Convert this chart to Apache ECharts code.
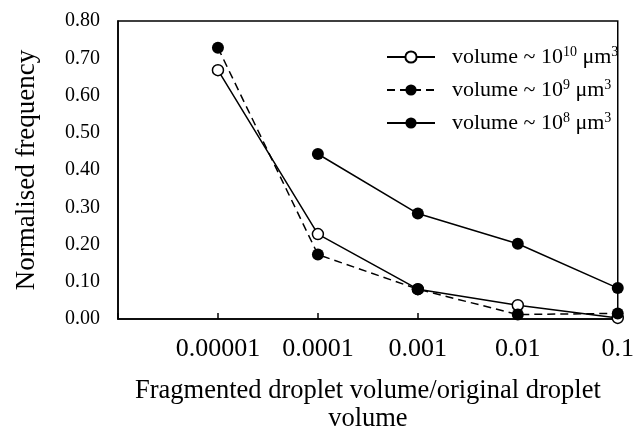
<!DOCTYPE html>
<html>
<head>
<meta charset="utf-8">
<script src="https://cdn.jsdelivr.net/npm/echarts@6/dist/echarts.min.js"></script>
<style>
  html, body { margin: 0; padding: 0; background: #fff; }
  #chart { width: 637px; height: 438px; }
</style>
</head>
<body>
<div id="chart"></div>
<script>
// volume ratio (log axis)
const xValues = [0.00001, 0.0001, 0.001, 0.01, 0.1];
const xLabels = ['0.00001', '0.0001', '0.001', '0.01', '0.1'];
// normalised frequency per original droplet volume
const vol10 = [0.668, 0.228, 0.080, 0.037, 0.003];
const vol9 = [0.728, 0.173, 0.080, 0.012, 0.015];
const vol8 = [null, 0.443, 0.283, 0.202, 0.083];
const seriesNames = ['volume ~ 10^10 μm^3', 'volume ~ 10^9 μm^3', 'volume ~ 10^8 μm^3'];
const legendLabels = {
  'volume ~ 10^10 μm^3': 'volume ~ 10{sup|10} μm{sup|3}',
  'volume ~ 10^9 μm^3': 'volume ~ 10{sup|9} μm{sup|3}',
  'volume ~ 10^8 μm^3': 'volume ~ 10{sup|8} μm{sup|3}'
};
const redLineX = 0.0003;

const font = '"Liberation Serif", "Times New Roman", serif';

function pairs(ys) {
  const out = [];
  ys.forEach(function (y, i) {
    if (y !== null) out.push([xValues[i], y]);
  });
  return out;
}

const chart = echarts.init(document.getElementById('chart'));

const option = {
  backgroundColor: '#fff',
  animation: false,
  grid: {
    left: 118,
    right: 6,
    top: 21,
    bottom: 116,
    show: true,
    borderColor: '#000',
    borderWidth: 1.5
  },
  legend: {
    orient: 'vertical',
    left: 381,
    top: 40,
    itemWidth: 48,
    itemHeight: 14,
    itemGap: 9,
    data: seriesNames,
    formatter: function (name) { return legendLabels[name]; },
    textStyle: {
      fontFamily: font,
      fontSize: 22,
      lineHeight: 24,
      color: '#000',
      padding: [0, 0, 0, 12],
      rich: {
        sup: { fontFamily: font, fontSize: 14, lineHeight: 14, verticalAlign: 'top', color: '#000' }
      }
    }
  },
  xAxis: {
    type: 'log',
    logBase: 10,
    min: 0.000001,
    max: 0.1,
    name: 'Fragmented droplet volume/original droplet\nvolume',
    nameLocation: 'middle',
    nameGap: 58,
    nameTextStyle: { fontFamily: font, fontSize: 26.5, lineHeight: 28, color: '#000' },
    axisLine: { lineStyle: { color: '#000', width: 1.5 } },
    axisTick: { inside: true, length: 6, lineStyle: { color: '#000', width: 1.5 } },
    splitLine: { show: false },
    minorTick: { show: false },
    axisLabel: {
      fontFamily: font,
      fontSize: 26,
      color: '#000',
      margin: 17,
      showMaxLabel: true,
      formatter: function (v) {
        const e = Math.round(Math.log10(v));
        const idx = xValues.findIndex(function (x) { return Math.round(Math.log10(x)) === e; });
        return idx >= 0 ? xLabels[idx] : '';
      }
    }
  },
  yAxis: {
    type: 'value',
    min: 0,
    max: 0.8,
    interval: 0.1,
    name: 'Normalised frequency',
    nameLocation: 'middle',
    nameRotate: 90,
    nameGap: 78,
    nameTextStyle: { fontFamily: font, fontSize: 27, color: '#000' },
    axisLine: { show: true, lineStyle: { color: '#000', width: 1.5 } },
    axisTick: { show: false },
    splitLine: { show: false },
    axisLabel: {
      fontFamily: font,
      fontSize: 20,
      color: '#000',
      margin: 18,
      formatter: function (v) { return v.toFixed(2); }
    }
  },
  series: [
    {
      name: seriesNames[0],
      type: 'line',
      data: pairs(vol10),
      symbol: 'circle',
      symbolSize: 11,
      lineStyle: { color: '#000', width: 1.5 },
      itemStyle: { color: '#fff', borderColor: '#000', borderWidth: 1.5 },
      markLine: {
        silent: true,
        symbol: 'none',
        label: { show: false },
        lineStyle: { color: '#c0504d', width: 1.5, type: 'solid' },
        data: [{ xAxis: redLineX }]
      },
      z: 2
    },
    {
      name: seriesNames[1],
      type: 'line',
      data: pairs(vol9),
      symbol: 'circle',
      symbolSize: 12,
      lineStyle: { color: '#000', width: 1.5, type: [8, 5] },
      itemStyle: { color: '#000' },
      z: 3
    },
    {
      name: seriesNames[2],
      type: 'line',
      data: pairs(vol8),
      symbol: 'circle',
      symbolSize: 12,
      lineStyle: { color: '#000', width: 1.5 },
      itemStyle: { color: '#000' },
      z: 4
    }
  ]
};

chart.setOption(option);
</script>
</body>
</html>
